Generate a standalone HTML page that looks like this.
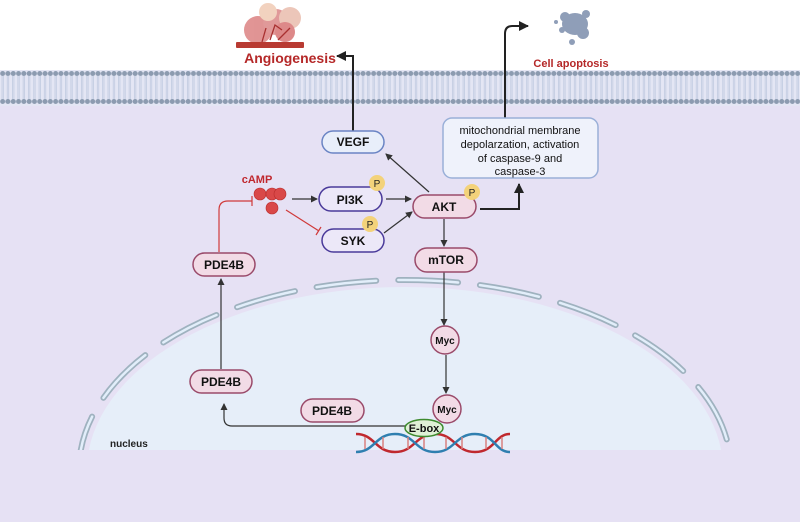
<!DOCTYPE html>
<html><head><style>
html,body{margin:0;width:800px;height:522px;overflow:hidden;background:#fff}
svg{display:block}
text{font-family:"Liberation Sans",sans-serif}
</style></head><body>
<svg width="800" height="522" viewBox="0 0 800 522" xmlns="http://www.w3.org/2000/svg">
<defs>
<marker id="ah" markerWidth="8" markerHeight="8" refX="6" refY="4" orient="auto" markerUnits="userSpaceOnUse"><path d="M0,0.5 L7,4 L0,7.5Z" fill="#333"/></marker>
<marker id="ahb" markerWidth="12" markerHeight="12" refX="9" refY="6" orient="auto" markerUnits="userSpaceOnUse"><path d="M0,1 L10,6 L0,11Z" fill="#222"/></marker>
<pattern id="dots" width="5.3" height="7" patternUnits="userSpaceOnUse"><circle cx="2.65" cy="3.5" r="2.5" fill="#8c9bb0"/></pattern>
<pattern id="tails" width="5.3" height="24" patternUnits="userSpaceOnUse"><line x1="2" y1="0" x2="2" y2="24" stroke="#c0cae0" stroke-width="0.8"/><line x1="3.3" y1="0" x2="3.3" y2="24" stroke="#c0cae0" stroke-width="0.8"/></pattern>
</defs>
<rect x="0" y="70" width="800" height="452" fill="#e6e1f4"/>
<rect x="0" y="70" width="800" height="36" fill="#e4e6f4"/>
<rect x="0" y="76" width="800" height="24" fill="url(#tails)"/>
<rect x="0" y="70" width="800" height="7" fill="url(#dots)"/>
<rect x="0" y="99" width="800" height="7" fill="url(#dots)"/>
<clipPath id="nc"><rect x="0" y="0" width="800" height="450"/></clipPath>
<g clip-path="url(#nc)">
<ellipse cx="405" cy="470" rx="318" ry="183" fill="#e6eef9"/>
<ellipse cx="405" cy="470" rx="326" ry="190" fill="none" stroke="#9fb2bf" stroke-width="6" stroke-linecap="round" stroke-dasharray="60 22"/>
<ellipse cx="405" cy="470" rx="326" ry="190" fill="none" stroke="#e2eefa" stroke-width="2.5" stroke-linecap="round" stroke-dasharray="60 22"/>
</g>
<g opacity="0.8">
<circle cx="258" cy="30" r="14" fill="#d97a7a"/><circle cx="276" cy="22" r="13" fill="#d98080"/><circle cx="290" cy="18" r="11" fill="#e8b8a8"/><circle cx="268" cy="12" r="9" fill="#f0c8b0"/><circle cx="285" cy="32" r="10" fill="#d56c6c"/>
</g>
<path d="M262,42 L266,28 M270,40 L275,25 L282,30 M278,40 L290,28" stroke="#a83030" stroke-width="1.3" fill="none"/>
<rect x="236" y="42" width="68" height="6" fill="#b83a32" rx="1"/>
<g fill="#8f9eb8"><ellipse cx="575" cy="24" rx="13" ry="11"/><circle cx="565" cy="17" r="5"/><circle cx="583" cy="33" r="6"/><circle cx="562" cy="30" r="3"/><circle cx="586" cy="14" r="4"/><circle cx="572" cy="42" r="3"/><circle cx="556" cy="22" r="2"/></g>
<text x="290" y="63" font-size="14" font-weight="bold" fill="#b52828" text-anchor="middle">Angiogenesis</text>
<text x="571" y="67" font-size="11" font-weight="bold" fill="#b52828" text-anchor="middle">Cell apoptosis</text>
<path d="M353,131 V56 H337" fill="none" stroke="#222" stroke-width="2" marker-end="url(#ahb)"/>
<path d="M505,118 V34 Q505,26 512,26 H528" fill="none" stroke="#222" stroke-width="2" marker-end="url(#ahb)"/>
<path d="M480,209 H519 V184" fill="none" stroke="#222" stroke-width="2" marker-end="url(#ahb)"/>
<line x1="429" y1="192" x2="386" y2="154" stroke="#333" stroke-width="1.2" marker-end="url(#ah)"/>
<line x1="292" y1="199" x2="317" y2="199" stroke="#333" stroke-width="1.2" marker-end="url(#ah)"/>
<line x1="386" y1="199" x2="411" y2="199" stroke="#333" stroke-width="1.2" marker-end="url(#ah)"/>
<line x1="384" y1="233" x2="412" y2="212" stroke="#333" stroke-width="1.2" marker-end="url(#ah)"/>
<line x1="444" y1="219" x2="444" y2="246" stroke="#333" stroke-width="1.2" marker-end="url(#ah)"/>
<line x1="444" y1="272" x2="444" y2="325" stroke="#333" stroke-width="1.2" marker-end="url(#ah)"/>
<line x1="446" y1="355" x2="446" y2="393" stroke="#333" stroke-width="1.2" marker-end="url(#ah)"/>
<line x1="221" y1="369" x2="221" y2="279" stroke="#333" stroke-width="1.2" marker-end="url(#ah)"/>
<path d="M405,426 H232 Q224,426 224,418 V404" fill="none" stroke="#333" stroke-width="1.2" marker-end="url(#ah)"/>
<path d="M219,252 V210 Q219,201 228,201 H252 M252,196 V206" fill="none" stroke="#d03a3a" stroke-width="1.2"/>
<path d="M286,210 L319,231 M316,235 L321,227" fill="none" stroke="#d03a3a" stroke-width="1.2"/>
<text x="257" y="183" font-size="11" font-weight="bold" fill="#c0282e" text-anchor="middle">cAMP</text>
<g fill="#d94848" stroke="#b82c2c" stroke-width="0.6"><circle cx="260" cy="194" r="6"/><circle cx="272" cy="194" r="6"/><circle cx="280" cy="194" r="6"/><circle cx="272" cy="208" r="6"/></g>
<g font-size="12" font-weight="bold" text-anchor="middle" fill="#111">
<rect x="322" y="131" width="62" height="22" rx="11" fill="#e8eefa" stroke="#6a84c4" stroke-width="1.5"/><text x="353" y="146">VEGF</text>
<rect x="443" y="118" width="155" height="60" rx="9" fill="#eff2fb" stroke="#9ab0d8" stroke-width="1.5"/>
<g font-weight="normal" font-size="11"><text x="520" y="134">mitochondrial membrane</text><text x="520" y="148">depolarzation, activation</text><text x="520" y="162">of caspase-9 and</text><text x="520" y="175">caspase-3</text></g>
<rect x="319" y="187" width="63" height="24" rx="12" fill="#ece8f8" stroke="#4a3a9a" stroke-width="1.5"/><text x="350" y="204">PI3K</text>
<rect x="322" y="229" width="62" height="23" rx="11.5" fill="#ece8f8" stroke="#4a3a9a" stroke-width="1.5"/><text x="353" y="245">SYK</text>
<rect x="413" y="195" width="63" height="23" rx="11.5" fill="#f2dbe6" stroke="#9a4a6a" stroke-width="1.5"/><text x="444" y="211">AKT</text>
<rect x="415" y="248" width="62" height="24" rx="12" fill="#f2dbe6" stroke="#9a4a6a" stroke-width="1.5"/><text x="446" y="264">mTOR</text>
<rect x="193" y="253" width="62" height="23" rx="11.5" fill="#f2dbe6" stroke="#9a4a6a" stroke-width="1.5"/><text x="224" y="269">PDE4B</text>
<rect x="190" y="370" width="62" height="23" rx="11.5" fill="#f2dbe6" stroke="#9a4a6a" stroke-width="1.5"/><text x="221" y="386">PDE4B</text>
<rect x="301" y="399" width="63" height="23" rx="11.5" fill="#f2dbe6" stroke="#9a4a6a" stroke-width="1.5"/><text x="332" y="415">PDE4B</text>
<circle cx="445" cy="340" r="14" fill="#f2dbe6" stroke="#9a4a6a" stroke-width="1.5"/><text x="445" y="344" font-size="10">Myc</text>
<circle cx="447" cy="409" r="14" fill="#f2dbe6" stroke="#9a4a6a" stroke-width="1.5"/><text x="447" y="413" font-size="10">Myc</text>
</g>
<g font-size="10" text-anchor="middle" fill="#222">
<circle cx="377" cy="183" r="8" fill="#f3d27a"/><text x="377" y="187">P</text>
<circle cx="370" cy="224" r="8" fill="#f3d27a"/><text x="370" y="228">P</text>
<circle cx="472" cy="192" r="8" fill="#f3d27a"/><text x="472" y="196">P</text>
</g>
<path d="M356,434 C375,434 375,452 395,452 S415,434 435,434 S455,452 475,452 S495,434 510,434" fill="none" stroke="#c0282e" stroke-width="2.5"/>
<path d="M356,452 C375,452 375,434 395,434 S415,452 435,452 S455,434 475,434 S495,452 510,452" fill="none" stroke="#2f7fb0" stroke-width="2.5"/>
<g stroke="#d98080" stroke-width="1.5"><line x1="365" y1="437" x2="365" y2="449"/><line x1="383" y1="437" x2="383" y2="449"/><line x1="408" y1="437" x2="408" y2="449"/><line x1="424" y1="437" x2="424" y2="449"/><line x1="446" y1="437" x2="446" y2="449"/><line x1="462" y1="437" x2="462" y2="449"/><line x1="486" y1="437" x2="486" y2="449"/><line x1="502" y1="437" x2="502" y2="449"/></g>
<ellipse cx="424" cy="428" rx="19" ry="8.5" fill="#dff0d6" stroke="#3d8a2e" stroke-width="1.5"/>
<text x="424" y="432" font-size="11" font-weight="bold" text-anchor="middle" fill="#111">E-box</text>
<text x="110" y="447" font-size="10" font-weight="bold" fill="#222">nucleus</text>
</svg>
</body></html>
